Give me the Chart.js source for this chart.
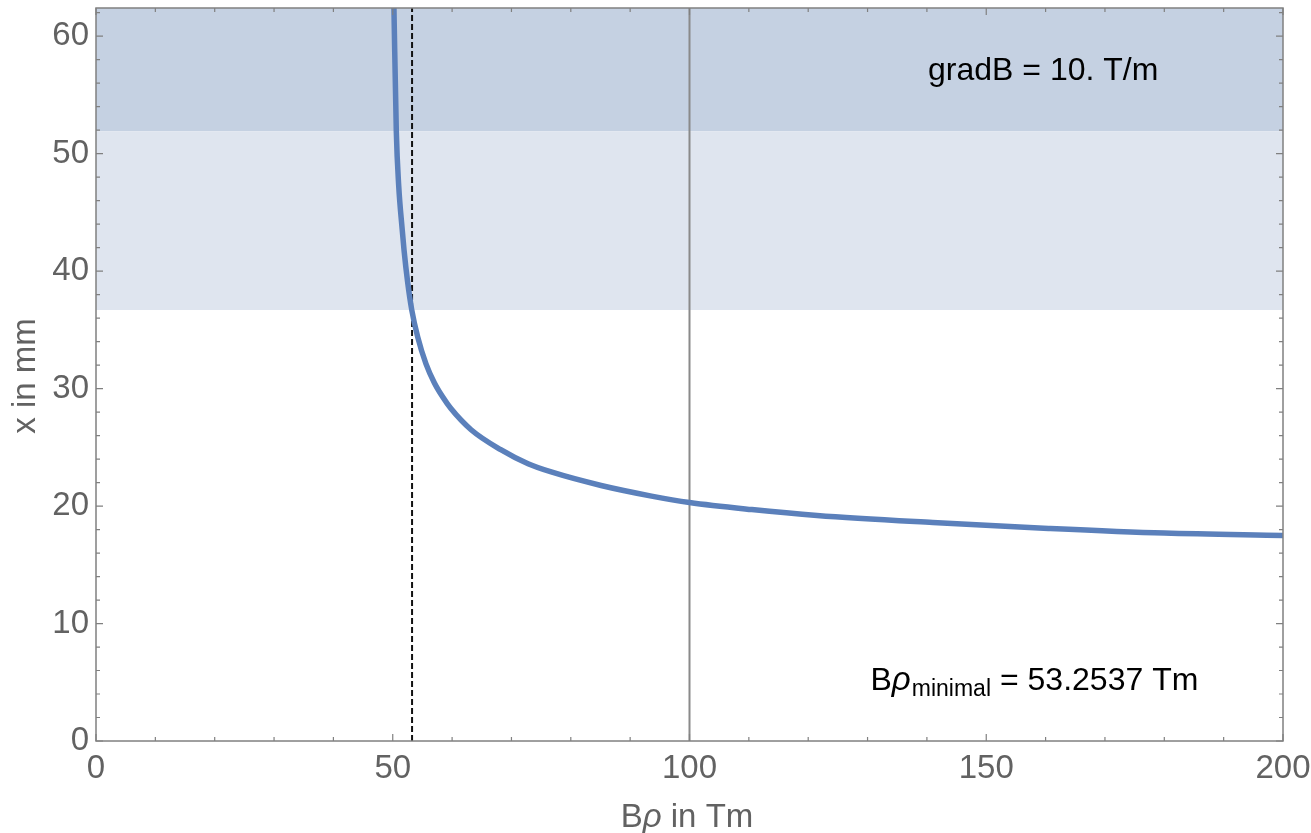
<!DOCTYPE html>
<html>
<head>
<meta charset="utf-8">
<script src="https://cdn.jsdelivr.net/npm/chart.js@4.4.0/dist/chart.umd.min.js"></script>
<style>
  html, body { margin: 0; padding: 0; background: #fff; }
</style>
</head>
<body>
<canvas id="chart" width="1311" height="833"></canvas>
<script>
// === data ===
const brho = [50.2, 50.6, 51.0, 51.6, 51.9, 52.5, 53.2, 54.2, 55.6, 57.0, 58.4, 59.8, 63.2, 68.2, 72.8, 76.7, 85.1, 93.6, 100, 110.5, 121.5, 141, 160.5, 180, 200];
const xmm  = [62.4, 51.9, 47.3, 43.5, 41.8, 39.1, 36.7, 34.4, 32.1, 30.5, 29.3, 28.3, 26.5, 24.8, 23.6, 22.9, 21.75, 20.85, 20.3, 19.7, 19.2, 18.6, 18.1, 17.7, 17.5];

const bandEdges = [36.7, 51.9, 62.4];   // light band from 36.7 to 51.9, dark band above
const xRange = [0, 200];
const yRange = [0, 62.4];
const xTicks = [0, 50, 100, 150, 200];
const yTicks = [0, 10, 20, 30, 40, 50, 60];
const brhoMin = 53.2537;
const brhoRef = 100;

const gradText = 'gradB = 10. T/m';
const minValueText = '= 53.2537 Tm';

// === styles ===
const TICK_COLOR = '#626262';
const FRAME_COLOR = '#808080';
const FONT = '"Liberation Sans", Arial, Helvetica, sans-serif';

// frame with inward ticks on all four sides, Mathematica style
const framePlugin = {
  id: 'frame',
  afterDatasetsDraw(chart) {
    const { ctx, chartArea: a, scales: { x, y } } = chart;
    ctx.save();
    ctx.strokeStyle = FRAME_COLOR;
    ctx.lineWidth = 1.5;
    ctx.strokeRect(a.left, a.top, a.right - a.left, a.bottom - a.top);
    ctx.lineWidth = 1.2;
    ctx.beginPath();
    for (let v = xRange[0]; v <= xRange[1]; v += 10) {
      const px = x.getPixelForValue(v);
      const len = v % 50 === 0 ? 7 : 4;
      ctx.moveTo(px, a.bottom); ctx.lineTo(px, a.bottom - len);
      ctx.moveTo(px, a.top); ctx.lineTo(px, a.top + len);
    }
    for (let v = 0; v <= yRange[1]; v += 2) {
      const py = y.getPixelForValue(v);
      const len = v % 10 === 0 ? 7 : 4;
      ctx.moveTo(a.left, py); ctx.lineTo(a.left + len, py);
      ctx.moveTo(a.right, py); ctx.lineTo(a.right - len, py);
    }
    ctx.stroke();
    ctx.restore();
  }
};

// axis titles (italic rho) and the two text labels
const textPlugin = {
  id: 'texts',
  afterDraw(chart) {
    const { ctx, scales: { x, y } } = chart;
    ctx.save();
    ctx.textBaseline = 'alphabetic';

    // x title: "Bρ in Tm"
    ctx.fillStyle = TICK_COLOR;
    const parts = [['B', 'normal'], ['\u03C1', 'italic'], [' in Tm', 'normal']];
    let total = 0;
    parts.forEach(p => { ctx.font = p[1] + ' 33px ' + FONT; total += ctx.measureText(p[0]).width; });
    let cx = 687 - total / 2;
    parts.forEach(p => {
      ctx.font = p[1] + ' 33px ' + FONT;
      ctx.fillText(p[0], cx, 827);
      cx += ctx.measureText(p[0]).width;
    });

    // y title: "x in mm"
    ctx.translate(35, 376);
    ctx.rotate(-Math.PI / 2);
    ctx.font = '33px ' + FONT;
    ctx.textAlign = 'center';
    ctx.fillText('x in mm', 0, 0);
    ctx.setTransform(1, 0, 0, 1, 0, 0);

    // gradB label
    ctx.fillStyle = '#000';
    ctx.font = '32px ' + FONT;
    ctx.textAlign = 'center';
    ctx.fillText(gradText, x.getPixelForValue(159.6), y.getPixelForValue(56.3));

    // B rho minimal label
    ctx.textAlign = 'left';
    let lx = x.getPixelForValue(130.5);
    const by = y.getPixelForValue(4.3);
    ctx.font = '32px ' + FONT;
    ctx.fillText('B', lx, by);
    lx += ctx.measureText('B').width;
    ctx.font = 'italic 33px ' + FONT;
    ctx.fillText('\u03C1', lx, by);
    lx += ctx.measureText('\u03C1').width + 1;
    ctx.font = '23px ' + FONT;
    ctx.fillText('minimal', lx, by + 6);
    lx += ctx.measureText('minimal').width + 9;
    ctx.font = '32px ' + FONT;
    ctx.fillText(minValueText, lx, by);
    ctx.restore();
  }
};

const curve = brho.map((b, i) => ({ x: b, y: xmm[i] }));
const hLine = (v) => [{ x: xRange[0], y: v }, { x: xRange[1], y: v }];
const vLine = (v) => [{ x: v, y: yRange[0] }, { x: v, y: yRange[1] }];

new Chart(document.getElementById('chart'), {
  type: 'line',
  data: {
    datasets: [
      {
        data: curve,
        borderColor: '#5b80bb',
        borderWidth: 5.5,
        pointRadius: 0,
        cubicInterpolationMode: 'monotone',
        fill: false
      },
      {
        data: vLine(brhoMin),
        borderColor: '#111',
        borderWidth: 2,
        borderDash: [6, 3],
        pointRadius: 0,
        fill: false
      },
      {
        data: vLine(brhoRef),
        borderColor: '#8a8a8a',
        borderWidth: 2,
        pointRadius: 0,
        fill: false
      },
      {
        data: hLine(bandEdges[0]),
        borderWidth: 0,
        pointRadius: 0,
        fill: false
      },
      {
        data: hLine(bandEdges[1]),
        borderWidth: 0,
        pointRadius: 0,
        backgroundColor: '#dfe5ef',
        fill: '-1'
      },
      {
        data: hLine(bandEdges[2]),
        borderWidth: 0,
        pointRadius: 0,
        backgroundColor: '#c5d1e2',
        fill: '-1'
      }
    ]
  },
  options: {
    responsive: false,
    animation: false,
    // chart area should be 96..1283 x 8..741
    layout: { autoPadding: false, padding: { left: 0, right: 28, top: 8, bottom: 0 } },
    plugins: {
      legend: { display: false },
      tooltip: { enabled: false },
      filler: { drawTime: 'beforeDatasetsDraw' }
    },
    scales: {
      x: {
        type: 'linear',
        min: xRange[0],
        max: xRange[1],
        grid: { display: false, drawTicks: false },
        border: { display: false },
        afterBuildTicks: (s) => { s.ticks = xTicks.map(v => ({ value: v })); },
        afterFit: (s) => { s.height = 92; s.paddingLeft = 0; s.paddingRight = 0; },
        ticks: {
          color: TICK_COLOR,
          font: { family: FONT, size: 33 },
          padding: 8,
          maxRotation: 0,
          autoSkip: false
        }
      },
      y: {
        type: 'linear',
        min: yRange[0],
        max: yRange[1],
        grid: { display: false, drawTicks: false },
        border: { display: false },
        afterBuildTicks: (s) => { s.ticks = yTicks.map(v => ({ value: v })); },
        afterFit: (s) => { s.width = 96; s.paddingTop = 0; s.paddingBottom = 0; },
        ticks: {
          color: TICK_COLOR,
          font: { family: FONT, size: 33 },
          padding: 7,
          autoSkip: false
        }
      }
    }
  },
  plugins: [framePlugin, textPlugin]
});
</script>
</body>
</html>
